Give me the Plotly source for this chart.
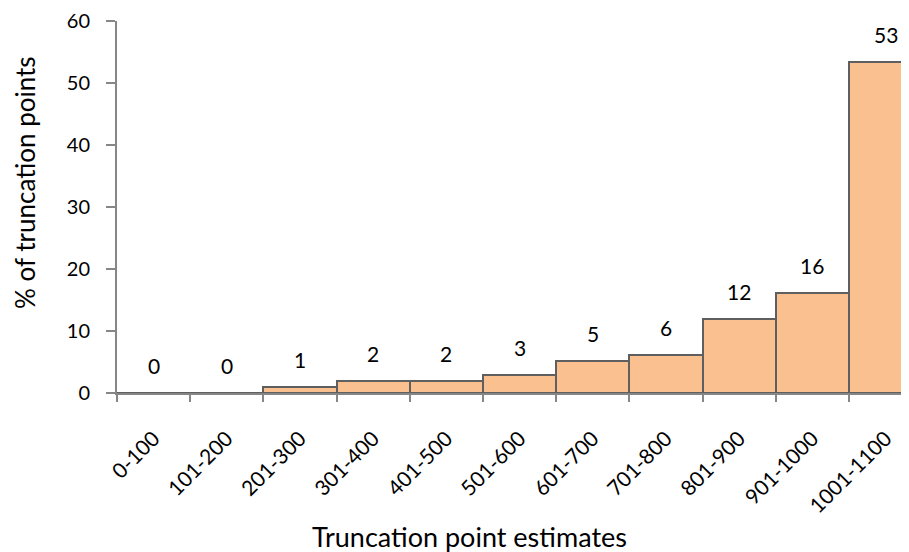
import plotly.graph_objects as go

categories = ["0-100", "101-200", "201-300", "301-400", "401-500", "501-600",
              "601-700", "701-800", "801-900", "901-1000", "1001-1100"]
values = [0, 0, 0.97, 1.94, 1.94, 2.96, 5.2, 6.2, 12.0, 16.2, 53.4]
labels = ["0", "0", "1", "2", "2", "3", "5", "6", "12", "16", "53"]
y_ticks = [0, 10, 20, 30, 40, 50, 60]
x_title = "Truncation point estimates"
y_title = "% of truncation points"

FONT = "Lato, Open Sans, sans-serif"
AXIS_GRAY = "#868686"

fig = go.Figure()
fig.add_trace(go.Bar(
    x=categories, y=values,
    marker=dict(color="#FAC090", line=dict(color="#5F5F5F", width=2)),
    showlegend=False, hoverinfo="skip",
))
for c, v, t in zip(categories, values, labels):
    fig.add_annotation(x=c, y=v, text=t, showarrow=False, yanchor="bottom",
                       yshift=13, font=dict(family=FONT, size=21, color="#000000"))

# page body has an 8px margin, so the figure is offset by (8, 8) inside the window
fig.add_annotation(xref="paper", yref="paper", x=0.4457, y=-0.385, text=x_title,
                   showarrow=False, xanchor="center", yanchor="middle",
                   font=dict(family=FONT, size=27, color="#000000"))
fig.add_annotation(xref="paper", yref="paper", x=-0.1155, y=0.566, text=y_title,
                   textangle=-90, showarrow=False, xanchor="center", yanchor="middle",
                   font=dict(family=FONT, size=26, color="#000000"))

fig.update_layout(
    width=901, height=544,
    margin=dict(l=109, r=0, t=13, b=159),
    paper_bgcolor="white", plot_bgcolor="white",
    bargap=0,
    font=dict(family=FONT, size=21, color="#000000"),
    xaxis=dict(
        type="category", range=[-0.5, 10.32], automargin=False,
        showline=True, linecolor=AXIS_GRAY, linewidth=2,
        ticks="outside", tickson="boundaries", ticklen=7, tickcolor=AXIS_GRAY, tickwidth=2,
        tickangle=-45, tickfont=dict(family=FONT, size=21),
        ticklabelstandoff=23, ticklabeloverflow="allow",
        showgrid=False,
    ),
    yaxis=dict(
        range=[0, 60], tickvals=y_ticks, automargin=False,
        showline=True, linecolor=AXIS_GRAY, linewidth=2,
        ticks="outside", ticklen=9, tickcolor=AXIS_GRAY, tickwidth=2,
        showgrid=False, zeroline=False,
        tickfont=dict(family=FONT, size=20),
        ticklabelstandoff=12, ticklabeloverflow="allow",
    ),
)

fig.write_html("out.html")
